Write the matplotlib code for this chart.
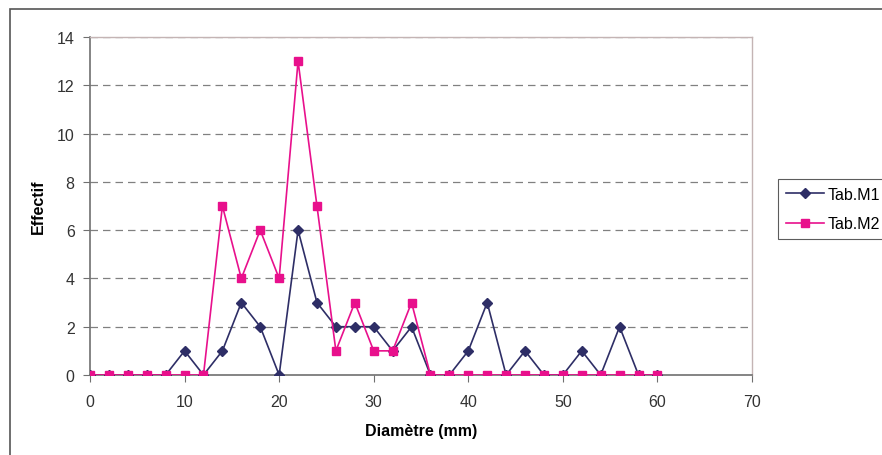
import matplotlib
matplotlib.use("Agg")
import matplotlib.pyplot as plt
from matplotlib.patches import Rectangle

plt.rcParams['font.family'] = ['Liberation Sans', 'DejaVu Sans']

x = [0, 2, 4, 6, 8, 10, 12, 14, 16, 18, 20, 22, 24, 26, 28, 30, 32, 34, 36, 38, 40, 42, 44, 46, 48, 50, 52, 54, 56, 58, 60]
m1 = [0, 0, 0, 0, 0, 1, 0, 1, 3, 2, 0, 6, 3, 2, 2, 2, 1, 2, 0, 0, 1, 3, 0, 1, 0, 0, 1, 0, 2, 0, 0]
m2 = [0, 0, 0, 0, 0, 0, 0, 7, 4, 6, 4, 13, 7, 1, 3, 1, 1, 3, 0, 0, 0, 0, 0, 0, 0, 0, 0, 0, 0, 0, 0]
xticks = [0, 10, 20, 30, 40, 50, 60, 70]
yticks = [0, 2, 4, 6, 8, 10, 12, 14]

W, H = 882, 456
fig = plt.figure(figsize=(W / 100, H / 100), dpi=100)
fig.patches.append(Rectangle((10 / W, -0.2), 1.0, 1.2 - 10 / H, transform=fig.transFigure,
                             fill=False, edgecolor='#555555', linewidth=1.2))
ax = fig.add_axes([90 / W, 1 - 376 / H, (752 - 90) / W, (376 - 38) / H])

ax.plot(x, m1, color='#2E2E66', marker='D', markersize=5, linewidth=1.2, label='Tab.M1', zorder=3)
ax.plot(x, m2, color='#E8108C', marker='s', markersize=5.5, linewidth=1.2, label='Tab.M2', zorder=4)

ax.set_xlim(0, 70)
ax.set_ylim(0, 14)
ax.set_xticks(xticks)
ax.set_yticks(yticks)
for yv in yticks[1:]:
    ax.axhline(yv, color='#808080', linestyle=(0, (6, 4)), linewidth=0.9, zorder=1)
for s in ['top', 'right']:
    ax.spines[s].set_color('#c4b4b4')
    ax.spines[s].set_linewidth(1.0)
for s in ['left', 'bottom']:
    ax.spines[s].set_color('#707070')
    ax.spines[s].set_linewidth(1.2)
ax.tick_params(axis='both', direction='out', color='#707070', length=5, labelsize=11.5, colors='#333333')
ax.tick_params(axis='x', pad=9)
ax.tick_params(axis='y', pad=6)
ax.set_xlabel('Diamètre (mm)', fontsize=11.5, fontweight='bold', labelpad=10)
ax.set_ylabel('Effectif', fontsize=11.5, fontweight='bold', labelpad=8)

leg = fig.legend(loc='upper left', bbox_to_anchor=(778 / W, 1 - 180 / H), frameon=True, fancybox=False,
                 edgecolor='#333333', fontsize=11.5, handlelength=2.4, borderpad=0.5, labelspacing=0.9,
                 handletextpad=0.2, borderaxespad=0)
leg.get_frame().set_linewidth(0.8)

fig.savefig('out.png', dpi=100)
